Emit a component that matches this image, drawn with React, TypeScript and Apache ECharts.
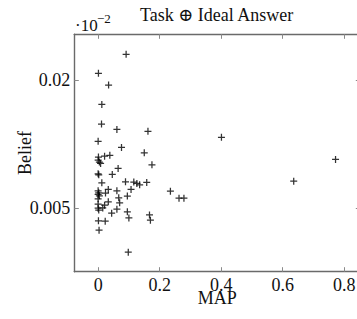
import React, { useEffect, useRef } from "react";
import * as echarts from "echarts";

const mapValues: number[] = [
  0.091, 0.001, 0.034, 0.012, 0.011, 0.061, 0.162, 0.0, 0.076, 0.15,
  0.001, 0.0, 0.004, 0.008, 0.021, 0.038, 0.175, 0.065, 0.0, 0.002,
  0.046, 0.012, 0.089, 0.116, 0.126, 0.135, 0.158, 0.107, 0.033, 0.061,
  0.0, 0.002, 0.0, 0.004, 0.024, 0.067, 0.095, 0.0, 0.033, 0.07,
  0.021, 0.0, 0.015, 0.002, 0.0, 0.061, 0.044, 0.095, 0.1, 0.167,
  0.17, 0.001, 0.023, 0.003, 0.098, 0.235, 0.263, 0.279, 0.401, 0.772,
  0.636,
];

const beliefValues: number[] = [
  0.02301, 0.02079, 0.01941, 0.01715, 0.01484, 0.01422, 0.01399, 0.01282, 0.01211, 0.01148,
  0.01098, 0.01062, 0.01039, 0.01024, 0.01109, 0.01118, 0.01007, 0.00965, 0.00902, 0.0089,
  0.00895, 0.00796, 0.00808, 0.00805, 0.00789, 0.00773, 0.00801, 0.00719, 0.00719, 0.00703,
  0.00703, 0.00679, 0.00661, 0.00644, 0.00676, 0.00621, 0.00641, 0.00609, 0.00574, 0.00562,
  0.00535, 0.00547, 0.00503, 0.00477, 0.005, 0.00488, 0.00441, 0.00457, 0.00386, 0.00421,
  0.00359, 0.00351, 0.00348, 0.00242, -0.00016, 0.00699, 0.00617, 0.00617, 0.01329, 0.01071,
  0.00816,
];

const xTicks: number[] = [0, 0.2, 0.4, 0.6, 0.8];
const yTicks: number[] = [0.005, 0.02];

const TITLE = "Task \u2295 Ideal Answer";
const X_NAME = "MAP";
const Y_NAME = "Belief";

const FONT = "'Liberation Serif', 'DejaVu Serif', serif";
const AXIS_COLOR = "#6a6a6a";
const TICK_COLOR = "#8a8a8a";

const plusPath =
  "path://M0.41,0H0.59V0.41H1V0.59H0.59V1H0.41V0.59H0V0.41H0.41Z";

export default function App() {
  const ref = useRef<HTMLDivElement>(null);
  useEffect(() => {
    if (!ref.current) return;
    const chart = echarts.init(ref.current, undefined, { renderer: "svg" });
    const data = mapValues.map((x, i) => [x, beliefValues[i]]);
    const xMin = -0.0775;
    const xMax = 0.8525;
    const yMin = -0.002442;
    const yMax = 0.025356;
    const tickStyle = { show: true, inside: true, length: 4.5, lineStyle: { color: TICK_COLOR, width: 1 } };
    const lineStyle = { show: true, onZero: false, lineStyle: { color: AXIS_COLOR, width: 1.4 } };
    const labelStyle = { fontFamily: FONT, fontSize: 18, color: "#111" };
    chart.setOption({
      animation: false,
      backgroundColor: "#fff",
      title: {
        text: TITLE,
        left: 135,
        top: 1,
        textStyle: { fontFamily: FONT, fontSize: 18, fontWeight: "normal", color: "#111" },
      },
      grid: {
        left: 74.3,
        top: 34.3,
        width: 286,
        height: 237.4,
        containLabel: false,
        outerBoundsMode: "none",
      },
      xAxis: [
        {
          type: "value",
          min: xMin,
          max: xMax,
          name: X_NAME,
          nameLocation: "middle",
          nameGap: 19,
          nameMoveOverlap: false,
          nameTextStyle: { ...labelStyle, verticalAlign: "top", lineHeight: 14 },
          axisLine: lineStyle,
          axisTick: { ...tickStyle, customValues: xTicks },
          axisLabel: {
            ...labelStyle,
            lineHeight: 14,
            margin: 6,
            customValues: xTicks,
            formatter: (v: number) => String(v),
          },
          splitLine: { show: false },
        },
        {
          type: "value",
          position: "top",
          min: xMin,
          max: xMax,
          axisLine: lineStyle,
          axisTick: { ...tickStyle, customValues: xTicks },
          axisLabel: { show: false },
          splitLine: { show: false },
        },
      ],
      yAxis: [
        {
          type: "value",
          min: yMin,
          max: yMax,
          name: Y_NAME,
          nameLocation: "middle",
          nameGap: 40,
          nameMoveOverlap: false,
          nameTextStyle: labelStyle,
          axisLine: lineStyle,
          axisTick: { ...tickStyle, customValues: yTicks },
          axisLabel: { ...labelStyle, margin: 4, customValues: yTicks, formatter: (v: number) => String(v) },
          splitLine: { show: false },
        },
        {
          type: "value",
          position: "right",
          min: yMin,
          max: yMax,
          axisLine: lineStyle,
          axisTick: { ...tickStyle, customValues: yTicks },
          axisLabel: { show: false },
          splitLine: { show: false },
        },
      ],
      graphic: [
        {
          type: "text",
          left: 75,
          top: 17,
          style: { text: "\u00b710", fontFamily: FONT, fontSize: 17, fill: "#111" },
        },
        {
          type: "text",
          left: 97,
          top: 12,
          style: { text: "\u22122", fontFamily: FONT, fontSize: 13, fill: "#111" },
        },
      ],
      series: [
        {
          type: "scatter",
          xAxisIndex: 0,
          yAxisIndex: 0,
          data,
          symbol: plusPath,
          symbolSize: 7,
          itemStyle: { color: "#000" },
          clip: false,
        },
      ],
    });
    return () => chart.dispose();
  }, []);
  return (
    <div
      ref={ref}
      style={{ position: "fixed", left: 0, top: 0, width: 357, height: 319 }}
    />
  );
}
